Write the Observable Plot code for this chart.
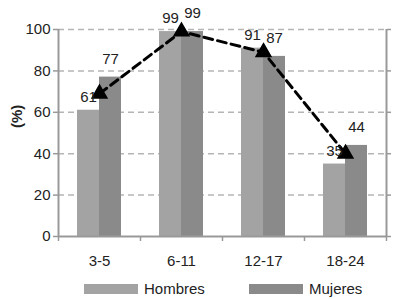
<!DOCTYPE html>
<html><head><meta charset="utf-8">
<script src="https://cdn.jsdelivr.net/npm/d3@7"></script>
<script src="https://cdn.jsdelivr.net/npm/@observablehq/plot@0.6"></script>
<style>
body{margin:0;background:#fff;font-family:"Liberation Sans",Arial,sans-serif;}
#wrap{position:relative;width:393px;height:299px;overflow:hidden;background:#fff}
.leg{position:absolute;top:281px;display:flex;align-items:center;font-size:15px;color:#222;line-height:16px}
.sw{display:inline-block;width:54px;height:10px;margin-right:6px}
</style></head><body><div id="wrap"><div id="chart"></div></div>
<script>
const categories = ["3-5", "6-11", "12-17", "18-24"];
const seriesNames = ["Hombres", "Mujeres"];
const hombres = [61, 99, 91, 35];
const mujeres = [77, 99, 87, 44];
const total = [69, 99, 89, 40];
const yTicks = [0, 20, 40, 60, 80, 100];
const colors = ["#a3a3a3", "#8a8a8a"];

const hData = categories.map((c, i) => ({cat: c, v: hombres[i]}));
const mData = categories.map((c, i) => ({cat: c, v: mujeres[i]}));
const tData = categories.map((c, i) => ({cat: c, v: total[i]}));

const W = 393, H = 272, mL = 58, mR = 7;
const half = (W - mL - mR) / categories.length / 2; // 41
const axisColor = "#999";

const chart = Plot.plot({
  width: W, height: H,
  marginTop: 29, marginBottom: 36, marginLeft: mL, marginRight: mR,
  x: {domain: categories, padding: 0, label: null},
  y: {domain: [0, 100], label: null},
  style: {fontFamily: "'Liberation Sans', Arial, sans-serif", fontSize: "15px", color: "#222", background: "white"},
  marks: [
    Plot.gridY(yTicks.slice(1), {stroke: "#b5b5b5", strokeOpacity: 1, strokeDasharray: "6,4", strokeWidth: 1.5}),
    Plot.barY(hData, {x: "cat", y: "v", fill: colors[0], insetLeft: half - 22, insetRight: half}),
    Plot.barY(mData, {x: "cat", y: "v", fill: colors[1], insetLeft: half, insetRight: half - 22}),
    Plot.ruleY([0], {stroke: axisColor, strokeWidth: 2}),
    Plot.ruleX([categories[0]], {x: d => d, dx: -half, stroke: axisColor, strokeWidth: 2}),
    Plot.ruleX([categories[categories.length - 1]], {x: d => d, dx: half, stroke: axisColor, strokeWidth: 2}),
    Plot.axisY(yTicks, {tickSize: 5, tickPadding: 3, stroke: axisColor, strokeWidth: 1.5, fontSize: 15, fill: "#222", label: null}),
    Plot.axisY(yTicks, {anchor: "right", tickSize: 4, tickFormat: () => "", stroke: axisColor, strokeWidth: 1.5, label: null}),
    Plot.axisX(categories, {tickSize: 5, dx: -half, tickFormat: () => "", stroke: axisColor, strokeWidth: 1.5, label: null}),
    Plot.axisX([categories[categories.length - 1]], {tickSize: 5, dx: half, tickFormat: () => "", stroke: axisColor, strokeWidth: 1.5, label: null}),
    Plot.axisX(categories, {tickSize: 0, tickPadding: 19, fontSize: 15, fill: "#222", label: null}),
    Plot.text(["(%)"], {frameAnchor: "left", dx: -41, dy: -5, rotate: -90, fontWeight: "bold", fontSize: 15, fill: "#222"}),
    Plot.line(tData, {x: "cat", y: "v", stroke: "black", strokeWidth: 3, strokeDasharray: "9,5"}),
    Plot.dot(tData, {x: "cat", y: "v", symbol: "triangle", r: 5.5, fill: "black", stroke: "black"}),
    Plot.text(hData, {x: "cat", y: "v", text: d => String(d.v), dx: -11, dy: -13, fontSize: 15, fill: "#222"}),
    Plot.text(mData, {x: "cat", y: "v", text: d => String(d.v), dx: 11, dy: -18, fontSize: 15, fill: "#222"})
  ]
});
document.getElementById("chart").appendChild(chart);

const wrap = document.getElementById("wrap");
const legLeft = [84, 249];
seriesNames.forEach((name, i) => {
  const d = document.createElement("div");
  d.className = "leg";
  d.style.left = legLeft[i] + "px";
  const sw = document.createElement("span");
  sw.className = "sw";
  sw.style.background = colors[i];
  d.appendChild(sw);
  d.appendChild(document.createTextNode(name));
  wrap.appendChild(d);
});
</script>
</body></html>
